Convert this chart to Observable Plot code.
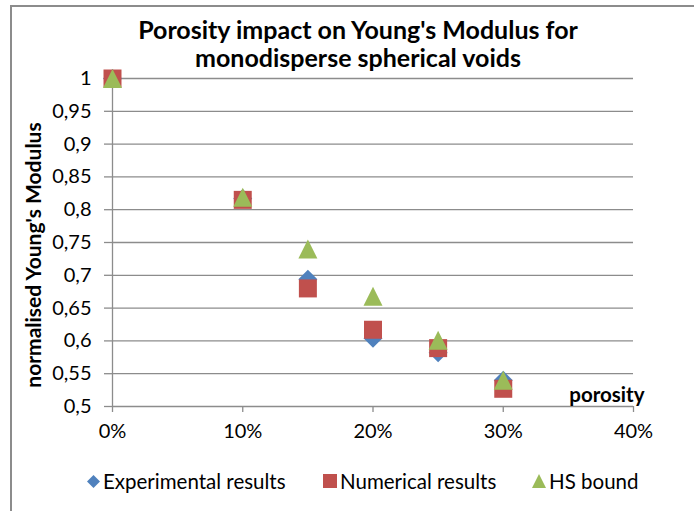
<!DOCTYPE html>
<html>
<head>
<meta charset="utf-8">
<script src="https://cdn.jsdelivr.net/npm/d3@7"></script>
<script src="https://cdn.jsdelivr.net/npm/@observablehq/plot@0.6"></script>
<style>
  html, body { margin: 0; padding: 0; background: #fff; }
  #chart { position: relative; width: 694px; height: 511px; overflow: hidden; font-family: Lato, "Noto Sans", sans-serif; color: #000; }
  #frame { position: absolute; left: 10px; top: 5px; width: 700px; height: 520px; border-left: 2px solid #8c8c8c; border-top: 2px solid #8c8c8c; box-sizing: border-box; }
  #title { position: absolute; left: 11px; top: 15px; width: 694px; text-align: center; font-weight: bold; font-size: 25px; line-height: 28px; }
  #plot { position: absolute; left: 0; top: 66px; }
  #ylabel { position: absolute; left: -117px; top: 241px; width: 300px; height: 28px; line-height: 28px; text-align: center; font-weight: bold; font-size: 21px; transform: rotate(-90deg); transform-origin: 150px 14px; white-space: nowrap; }
  #legend { position: absolute; left: 0; top: 455px; width: 694px; height: 56px; font-size: 20.5px; }
  .item { position: absolute; top: 14px; display: flex; align-items: center; white-space: nowrap; }
  .item svg { margin-right: 3px; }
</style>
</head>
<body>
<div id="chart">
  <div id="frame"></div>
  <div id="title">Porosity impact on Young's Modulus for<br>monodisperse spherical voids</div>
  <div id="plot"></div>
  <div id="ylabel"></div>
  <div id="legend"></div>
</div>
<script>
// ---- data ----
const porosity = [0, 0.10, 0.15, 0.20, 0.25, 0.30];
const experimental = [1, 0.817, 0.694, 0.604, 0.582, 0.540];
const numerical = [1, 0.815, 0.680, 0.617, 0.589, 0.527];
const hsBound = [1, 0.819, 0.740, 0.668, 0.601, 0.540];
const seriesNames = ["Experimental results", "Numerical results", "HS bound"];
const xTicks = [0, 0.1, 0.2, 0.3, 0.4];
const yTicks = [0.5, 0.55, 0.6, 0.65, 0.7, 0.75, 0.8, 0.85, 0.9, 0.95, 1];
const xLabel = "porosity";
const yLabel = "normalised Young's Modulus";

const colors = {"Experimental results": "#4f81bd", "Numerical results": "#c0504d", "HS bound": "#9bbb59"};

// custom symbols: half-size h = sqrt(size/PI) = r
const diamondSym = {draw(ctx, size) { const h = Math.sqrt(size / Math.PI); ctx.moveTo(0, -h); ctx.lineTo(h, 0); ctx.lineTo(0, h); ctx.lineTo(-h, 0); ctx.closePath(); }};
const squareSym = {draw(ctx, size) { const h = Math.sqrt(size / Math.PI); ctx.rect(-h, -h, 2 * h, 2 * h); }};
const triangleSym = {draw(ctx, size) { const h = Math.sqrt(size / Math.PI); ctx.moveTo(0, -h); ctx.lineTo(h, h); ctx.lineTo(-h, h); ctx.closePath(); }};

const rows = (vals, name) => porosity.map((p, i) => ({porosity: p, value: vals[i], series: name}));
const expRows = rows(experimental, seriesNames[0]);
const numRows = rows(numerical, seriesNames[1]);
const hsRows = rows(hsBound, seriesNames[2]);

const grid = "#8c8c8c";
const fmtY = d => String(d).replace(".", ",");

const chart = Plot.plot({
  width: 694,
  height: 389,
  marginLeft: 112,
  marginRight: 61,
  marginTop: 12,
  marginBottom: 49,
  style: {fontFamily: "Lato, 'Noto Sans', sans-serif", fontSize: "20px", color: "#000", background: "transparent", overflow: "visible"},
  x: {domain: [0, 0.4]},
  y: {domain: [0.5, 1]},
  marks: [
    Plot.ruleY(yTicks, {stroke: grid, strokeWidth: 1.3, strokeOpacity: 1}),
    Plot.ruleX([0], {stroke: grid, strokeWidth: 1.3, strokeOpacity: 1}),
    Plot.axisY({ticks: yTicks, tickSize: 8, tickPadding: 13, tickFormat: fmtY, stroke: grid, strokeWidth: 1.3, strokeOpacity: 1, label: null, fontSize: 20}),
    Plot.axisX({ticks: xTicks, tickSize: 6, tickPadding: 11, tickFormat: d3.format(".0%"), stroke: grid, strokeWidth: 1.3, strokeOpacity: 1, label: null, fontSize: 20}),
    Plot.dot(expRows, {x: "porosity", y: "value", symbol: diamondSym, r: 9.5, fill: colors[seriesNames[0]], stroke: "none"}),
    Plot.dot(numRows, {x: "porosity", y: "value", symbol: squareSym, r: 9, fill: colors[seriesNames[1]], stroke: "none"}),
    Plot.dot(hsRows, {x: "porosity", y: "value", symbol: triangleSym, r: 9.5, fill: colors[seriesNames[2]], stroke: "none"}),
    Plot.text([xLabel], {frameAnchor: "bottom-right", text: d => d, textAnchor: "end", lineAnchor: "bottom", dx: 11, dy: -5, fontWeight: "bold", fontSize: 20.5})
  ]
});
document.getElementById("plot").appendChild(chart);
document.getElementById("ylabel").textContent = yLabel;

// legend
const legend = document.getElementById("legend");
const legendPos = [87, 323, 532];
const legendSym = [
  '<polygon points="6.5,0 13,6.5 6.5,13 0,6.5"/>',
  '<rect x="0" y="0" width="14" height="14"/>',
  '<polygon points="7,0 14,14 0,14"/>'
];
const legendSize = [13, 14, 14];
seriesNames.forEach((name, i) => {
  const div = document.createElement("div");
  div.className = "item";
  div.style.left = legendPos[i] + "px";
  const s = legendSize[i];
  div.innerHTML = `<svg width="${s}" height="${s}" viewBox="0 0 ${s} ${s}"><g fill="${colors[name]}">${legendSym[i]}</g></svg><span>${name}</span>`;
  legend.appendChild(div);
});
</script>
</body>
</html>
